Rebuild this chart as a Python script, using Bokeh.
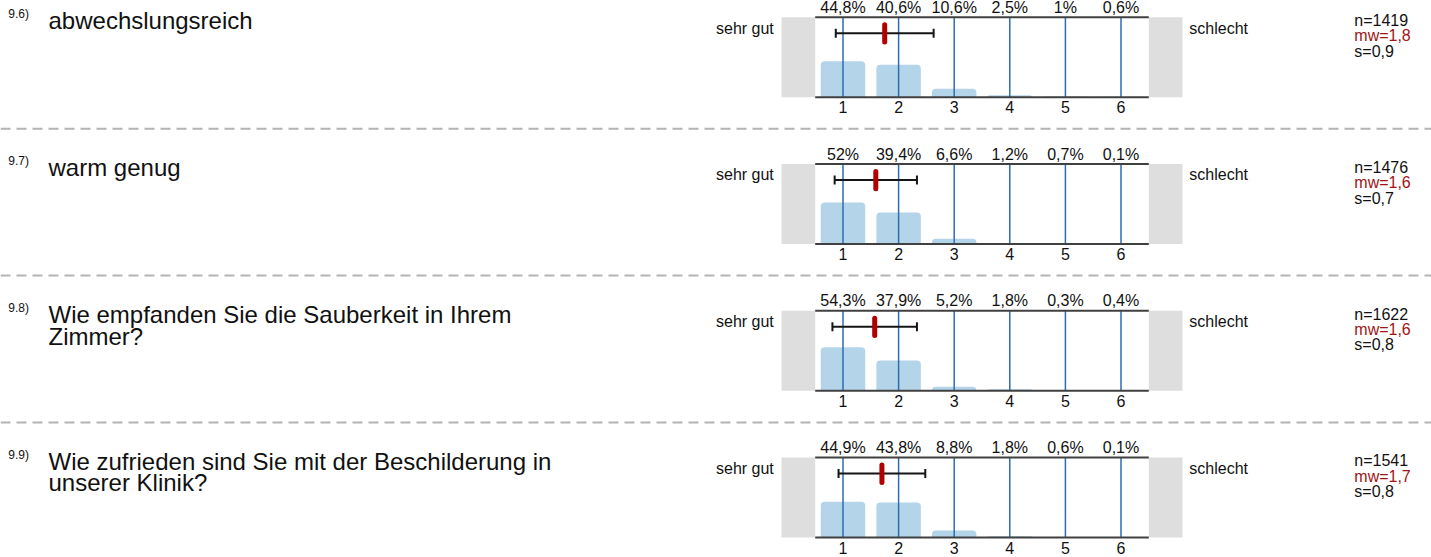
from bokeh.plotting import figure
from bokeh.layouts import column
from bokeh.models import Range1d, Span
from bokeh.core.properties import value
from bokeh.embed import file_html
from bokeh.resources import INLINE

# ---------------- data ----------------
question_ids = ["9.6)", "9.7)", "9.8)", "9.9)"]
question_lines = [
    ["abwechslungsreich"],
    ["warm genug"],
    ["Wie empfanden Sie die Sauberkeit in Ihrem", "Zimmer?"],
    ["Wie zufrieden sind Sie mit der Beschilderung in", "unserer Klinik?"],
]
categories = [1, 2, 3, 4, 5, 6]
tick_labels = ["1", "2", "3", "4", "5", "6"]
pct_q96 = [44.8, 40.6, 10.6, 2.5, 1.0, 0.6]
pct_q97 = [52.0, 39.4, 6.6, 1.2, 0.7, 0.1]
pct_q98 = [54.3, 37.9, 5.2, 1.8, 0.3, 0.4]
pct_q99 = [44.9, 43.8, 8.8, 1.8, 0.6, 0.1]
n_values = [1419, 1476, 1622, 1541]
means = [1.75, 1.59, 1.57, 1.70]
sds = [0.88, 0.74, 0.76, 0.78]
left_label = "sehr gut"
right_label = "schlecht"

percentages = [pct_q96, pct_q97, pct_q98, pct_q99]

# ---------------- layout / style ----------------
W = 1431
FIG_TOPS = [0, 130, 277, 424]
FIG_HEIGHTS = [130, 147, 147, 133]
LINE_TOPS = [16.7, 163.5, 310.3, 457.1]   # page y of each chart's top line
PX_X = 55.6       # pixels per category step
X1_PX = 842.5     # page x of category 1
PX_Y = 0.8        # pixels per percentage point
GRAY_PAD = 0.606  # width of grey end boxes in category units

FONT = value("Liberation Sans")
BAR_COLOR = "#b4d4ea"
GRID_BLUE = "#2c6db3"
AXIS_COLOR = "#404040"
RED = "#b00000"
RED_TEXT = "#a01414"
GRAY_BOX = "#dedede"
INK = "#111111"


def de(v, fmt="{:g}"):
    return fmt.format(v).replace(".", ",")


def X(px):
    return 1 + (px - X1_PX) / PX_X


def Y(dy):  # dy = pixels below the chart's top line
    return 100 - dy / PX_Y


def txt(p, xs, ys, texts, size, align="left", color=INK):
    p.text(x=xs, y=ys, text=texts, text_font=FONT, text_font_size=size,
           text_align=align, text_baseline="middle", text_color=color)


figs = []
for k in range(4):
    H = FIG_HEIGHTS[k]
    t = LINE_TOPS[k] - FIG_TOPS[k]
    xr = Range1d(X(0), X(W))
    yr = Range1d(100 - (H - t) / PX_Y, 100 + t / PX_Y)
    p = figure(width=W, height=H, x_range=xr, y_range=yr, output_backend="svg",
               toolbar_location=None, min_border=0, title=None,
               x_axis_type=None, y_axis_type=None, outline_line_color=None)
    p.grid.visible = False

    lo = categories[0] - 0.5
    hi = categories[-1] + 0.5

    # grey end boxes
    p.quad(left=[lo - GRAY_PAD, hi], right=[lo, hi + GRAY_PAD], bottom=[0, 0], top=[100, 100],
           fill_color=GRAY_BOX, line_color=None)

    # bars
    p.vbar(x=categories, top=percentages[k], bottom=0, width=0.8, fill_color=BAR_COLOR,
           line_color=None, border_radius=(4, 4, 0, 0))

    # blue vertical lines at categories
    p.segment(x0=categories, x1=categories, y0=[0] * 6, y1=[100] * 6,
              line_color=GRID_BLUE, line_width=1.5)

    # top / bottom lines
    p.segment(x0=[lo, lo], x1=[hi, hi], y0=[0, 100], y1=[0, 100],
              line_color=AXIS_COLOR, line_width=2)

    # error bar (mean +/- s)
    m, s = means[k], sds[k]
    yb = Y(16)
    cap = 4.5 / PX_Y
    p.segment(x0=[m - s], x1=[m + s], y0=[yb], y1=[yb], line_color="#151515", line_width=2)
    p.segment(x0=[m - s, m + s], x1=[m - s, m + s], y0=[yb - cap] * 2, y1=[yb + cap] * 2,
              line_color="#151515", line_width=2)
    # mean marker
    p.segment(x0=[m], x1=[m], y0=[Y(24.8)], y1=[Y(7.5)], line_color=RED, line_width=5,
              line_cap="round")

    # percentages above, tick labels below
    txt(p, categories, [Y(-10.0)] * 6, [de(v) + "%" for v in percentages[k]], "16px", "center")
    txt(p, categories, [Y(90)] * 6, tick_labels, "16px", "center")

    # end labels
    txt(p, [X(773.3)], [Y(10.8)], [left_label], "16px", "right")
    txt(p, [X(1188.8)], [Y(10.8)], [right_label], "16px", "left")

    # statistics
    txt(p, [X(1353.8)] * 2, [Y(3.2), Y(34)],
        ["n=" + str(n_values[k]), "s=" + de(sds[k], "{:.1f}")], "16px")
    txt(p, [X(1353.8)], [Y(18.6)], ["mw=" + de(means[k], "{:.1f}")], "16px", color=RED_TEXT)

    # question number and text
    txt(p, [X(7.8)], [Y(-2.9)], [question_ids[k]], "12px")
    lines = question_lines[k]
    txt(p, [X(48)] * len(lines), [Y(3.5 + 21.7 * i) for i in range(len(lines))], lines, "24px")

    # dashed separator
    if k < 3:
        p.add_layout(Span(location=Y(111.6), dimension="width", line_color="#b4b4b4",
                          line_width=2, line_dash="10 6"))
    figs.append(p)

root = column(*figs, spacing=0)

open("out.html", "w").write(file_html(root, INLINE))
